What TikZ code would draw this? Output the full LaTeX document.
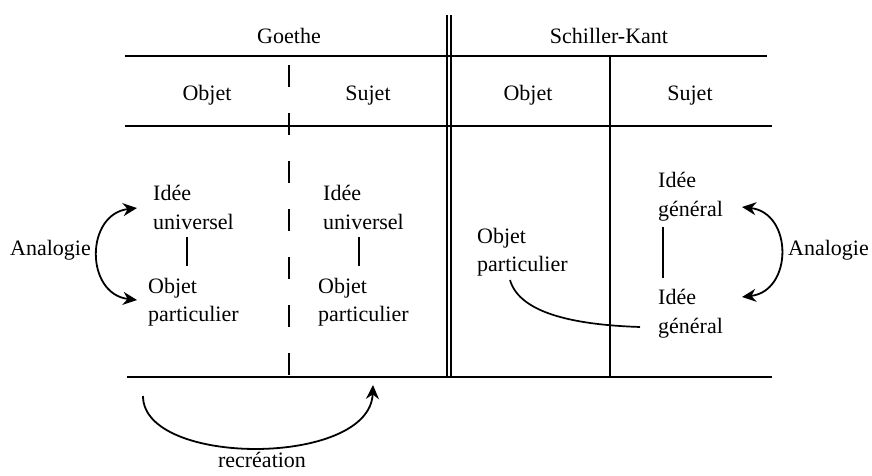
\documentclass[tikz,border=0pt]{standalone}
\usepackage{fontspec}
\setmainfont{Liberation Serif}
\usetikzlibrary{arrows.meta,calc}

\tikzset{
  lbl/.style={inner sep=0pt, anchor=base west, font=\fontsize{22}{29}\selectfont},
  head/.style={inner sep=0pt, anchor=base, font=\fontsize{22}{29}\selectfont},
  rule/.style={line width=1.9pt},
  thin rule/.style={line width=1.4pt},
  link/.style={line width=1.7pt},
  bend arrow/.style={line width=1.8pt, {Stealth[length=14pt,width=13pt]}-{Stealth[length=14pt,width=13pt]}},
  one arrow/.style={line width=1.8pt, -{Stealth[length=14pt,width=13pt]}},
}

\begin{document}
\begin{tikzpicture}[x=1pt,y=-1pt]
\useasboundingbox (0,0) rectangle (872,475);

% table frame
\draw[rule] (125,56) -- (767,56);
\draw[rule] (125,126) -- (772,126);
\draw[rule] (127,377) -- (772,377);
\draw[thin rule] (447,15) -- (447,377);
\draw[thin rule] (451,15) -- (451,377);
\draw[rule] (610,56) -- (610,377);
\draw[rule, dash pattern=on 22pt off 26pt] (289,65) -- (289,377);

% column headings
\node[head] (goethe)   at (289,43)  {Goethe};
\node[head] (schiller) at (609,43)  {Schiller-Kant};
\node[head] (hobjA)    at (207,100) {Objet};
\node[head] (hsujA)    at (368,100) {Sujet};
\node[head] (hobjB)    at (528,100) {Objet};
\node[head] (hsujB)    at (690,100) {Sujet};

% Goethe, objet
\node[lbl] (gIdeeO) at (153,200) {Idée};
\node[lbl] (gUnivO) at (153,229) {universel};
\node[lbl] (gObjO)  at (148,293) {Objet};
\node[lbl] (gPartO) at (148,321) {particulier};

% Goethe, sujet
\node[lbl] (gIdeeS) at (323,200) {Idée};
\node[lbl] (gUnivS) at (323,229) {universel};
\node[lbl] (gObjS)  at (318,293) {Objet};
\node[lbl] (gPartS) at (318,321) {particulier};

% Schiller-Kant
\node[lbl] (sObj)   at (477,243) {Objet};
\node[lbl] (sPart)  at (477,271) {particulier};
\node[lbl] (sIdeeA) at (658,187) {Idée};
\node[lbl] (sGenA)  at (658,216) {général};
\node[lbl] (sIdeeB) at (658,304) {Idée};
\node[lbl] (sGenB)  at (658,333) {général};

% side and bottom labels
\node[lbl] (anaL) at (10,255)  {Analogie};
\node[lbl] (anaR) at (788,255) {Analogie};
\node[head] (recre) at (262,467) {recréation};

% vertical links inside the stacks
\draw[link] ($(gUnivO.base west)+(34,8)$) -- ($(gObjO.base west)+(39,-27)$);
\draw[link] ($(gUnivS.base west)+(36,8)$) -- ($(gObjS.base west)+(41,-27)$);
\draw[link] ($(sGenA.base west)+(5,11)$) -- ($(sIdeeB.base west)+(5,-26)$);

% analogy arrows
\coordinate (aLtop) at ($(gUnivO.base west)+(-16,-21)$);
\coordinate (aLbot) at ($(gObjO.base west)+(-11,7)$);
\draw[bend arrow] (aLtop) .. controls (85,214) and (85,294) .. (aLbot);

\coordinate (aRtop) at ($(sGenA.base west)+(84,-9)$);
\coordinate (aRbot) at ($(sIdeeB.base west)+(84,-7)$);
\draw[bend arrow] (aRtop) .. controls (793,213) and (793,291) .. (aRbot);

% particular object towards the general idea
\coordinate (pStart) at ($(sPart.base west)+(33,9)$);
\coordinate (pEnd)   at ($(sGenB.base west)+(-18,-6)$);
\draw[link] (pStart) .. controls (520,315) and (580,325) .. (pEnd);

% recreation arrow under the table
\coordinate (rStart) at (143,396);
\coordinate (rEnd)   at (373,385);
\draw[one arrow] (rStart) .. controls (143,467) and (370,467) .. (rEnd);
\end{tikzpicture}
\end{document}
